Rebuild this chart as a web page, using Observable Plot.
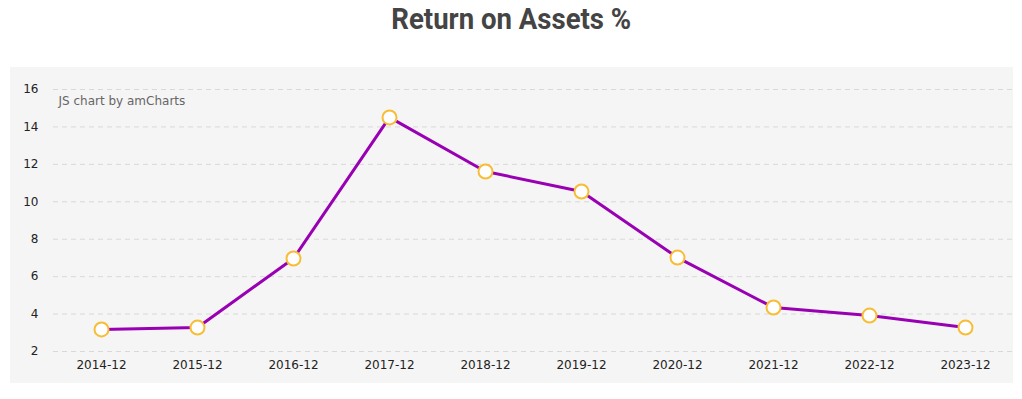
<!DOCTYPE html>
<html>
<head>
<meta charset="utf-8">
<script src="https://cdn.jsdelivr.net/npm/d3@7"></script>
<script src="https://cdn.jsdelivr.net/npm/@observablehq/plot@0.6"></script>
<style>
  html, body { margin: 0; padding: 0; background: #fff; }
  #title { position: absolute; left: 0; top: 0; width: 1022px; text-align: center; }
  #title span { display: inline-block; font-family: Roboto, sans-serif; font-weight: 700; font-size: 29px; color: #444; line-height: 36px; margin-top: 1px; transform: scaleX(0.95); transform-origin: center; }
  #chart { position: absolute; left: 10px; top: 67px; }
</style>
</head>
<body>
<div id="title"><span>Return on Assets %</span></div>
<div id="chart"></div>
<script>
const periods = ["2014-12","2015-12","2016-12","2017-12","2018-12","2019-12","2020-12","2021-12","2022-12","2023-12"];
const roa = [3.18, 3.28, 6.97, 14.51, 11.62, 10.55, 7.02, 4.35, 3.92, 3.28];
const yTicks = [2, 4, 6, 8, 10, 12, 14, 16];

const data = periods.map((p, i) => ({period: p, value: roa[i]}));

const chart = Plot.plot({
  width: 1003,
  height: 316,
  marginLeft: 43,
  marginRight: 0,
  marginTop: 22,
  marginBottom: 32,
  style: { background: "#f5f5f5", fontFamily: "'DejaVu Sans', Verdana, sans-serif", fontSize: "12px", color: "#222" },
  x: { type: "point", domain: periods, padding: 0.5, label: null, tickSize: 0, tickPadding: 9 },
  y: { domain: [2, 16], ticks: yTicks, label: null, tickSize: 0, tickPadding: 15, tickFormat: d3.format("d") },
  marks: [
    Plot.ruleY(yTicks, { stroke: "#d9d9d9", strokeDasharray: "5,4", strokeWidth: 1 }),
    Plot.text(["JS chart by amCharts"], { frameAnchor: "top-left", dx: 5, dy: 7, fill: "#666", fontSize: 12, textAnchor: "start" }),
    Plot.line(data, { x: "period", y: "value", stroke: "#9900b3", strokeWidth: 3 }),
    Plot.dot(data, { x: "period", y: "value", r: 7, fill: "#fff", stroke: "#f7bd35", strokeWidth: 2 })
  ]
});
document.getElementById("chart").appendChild(chart);
</script>
</body>
</html>
